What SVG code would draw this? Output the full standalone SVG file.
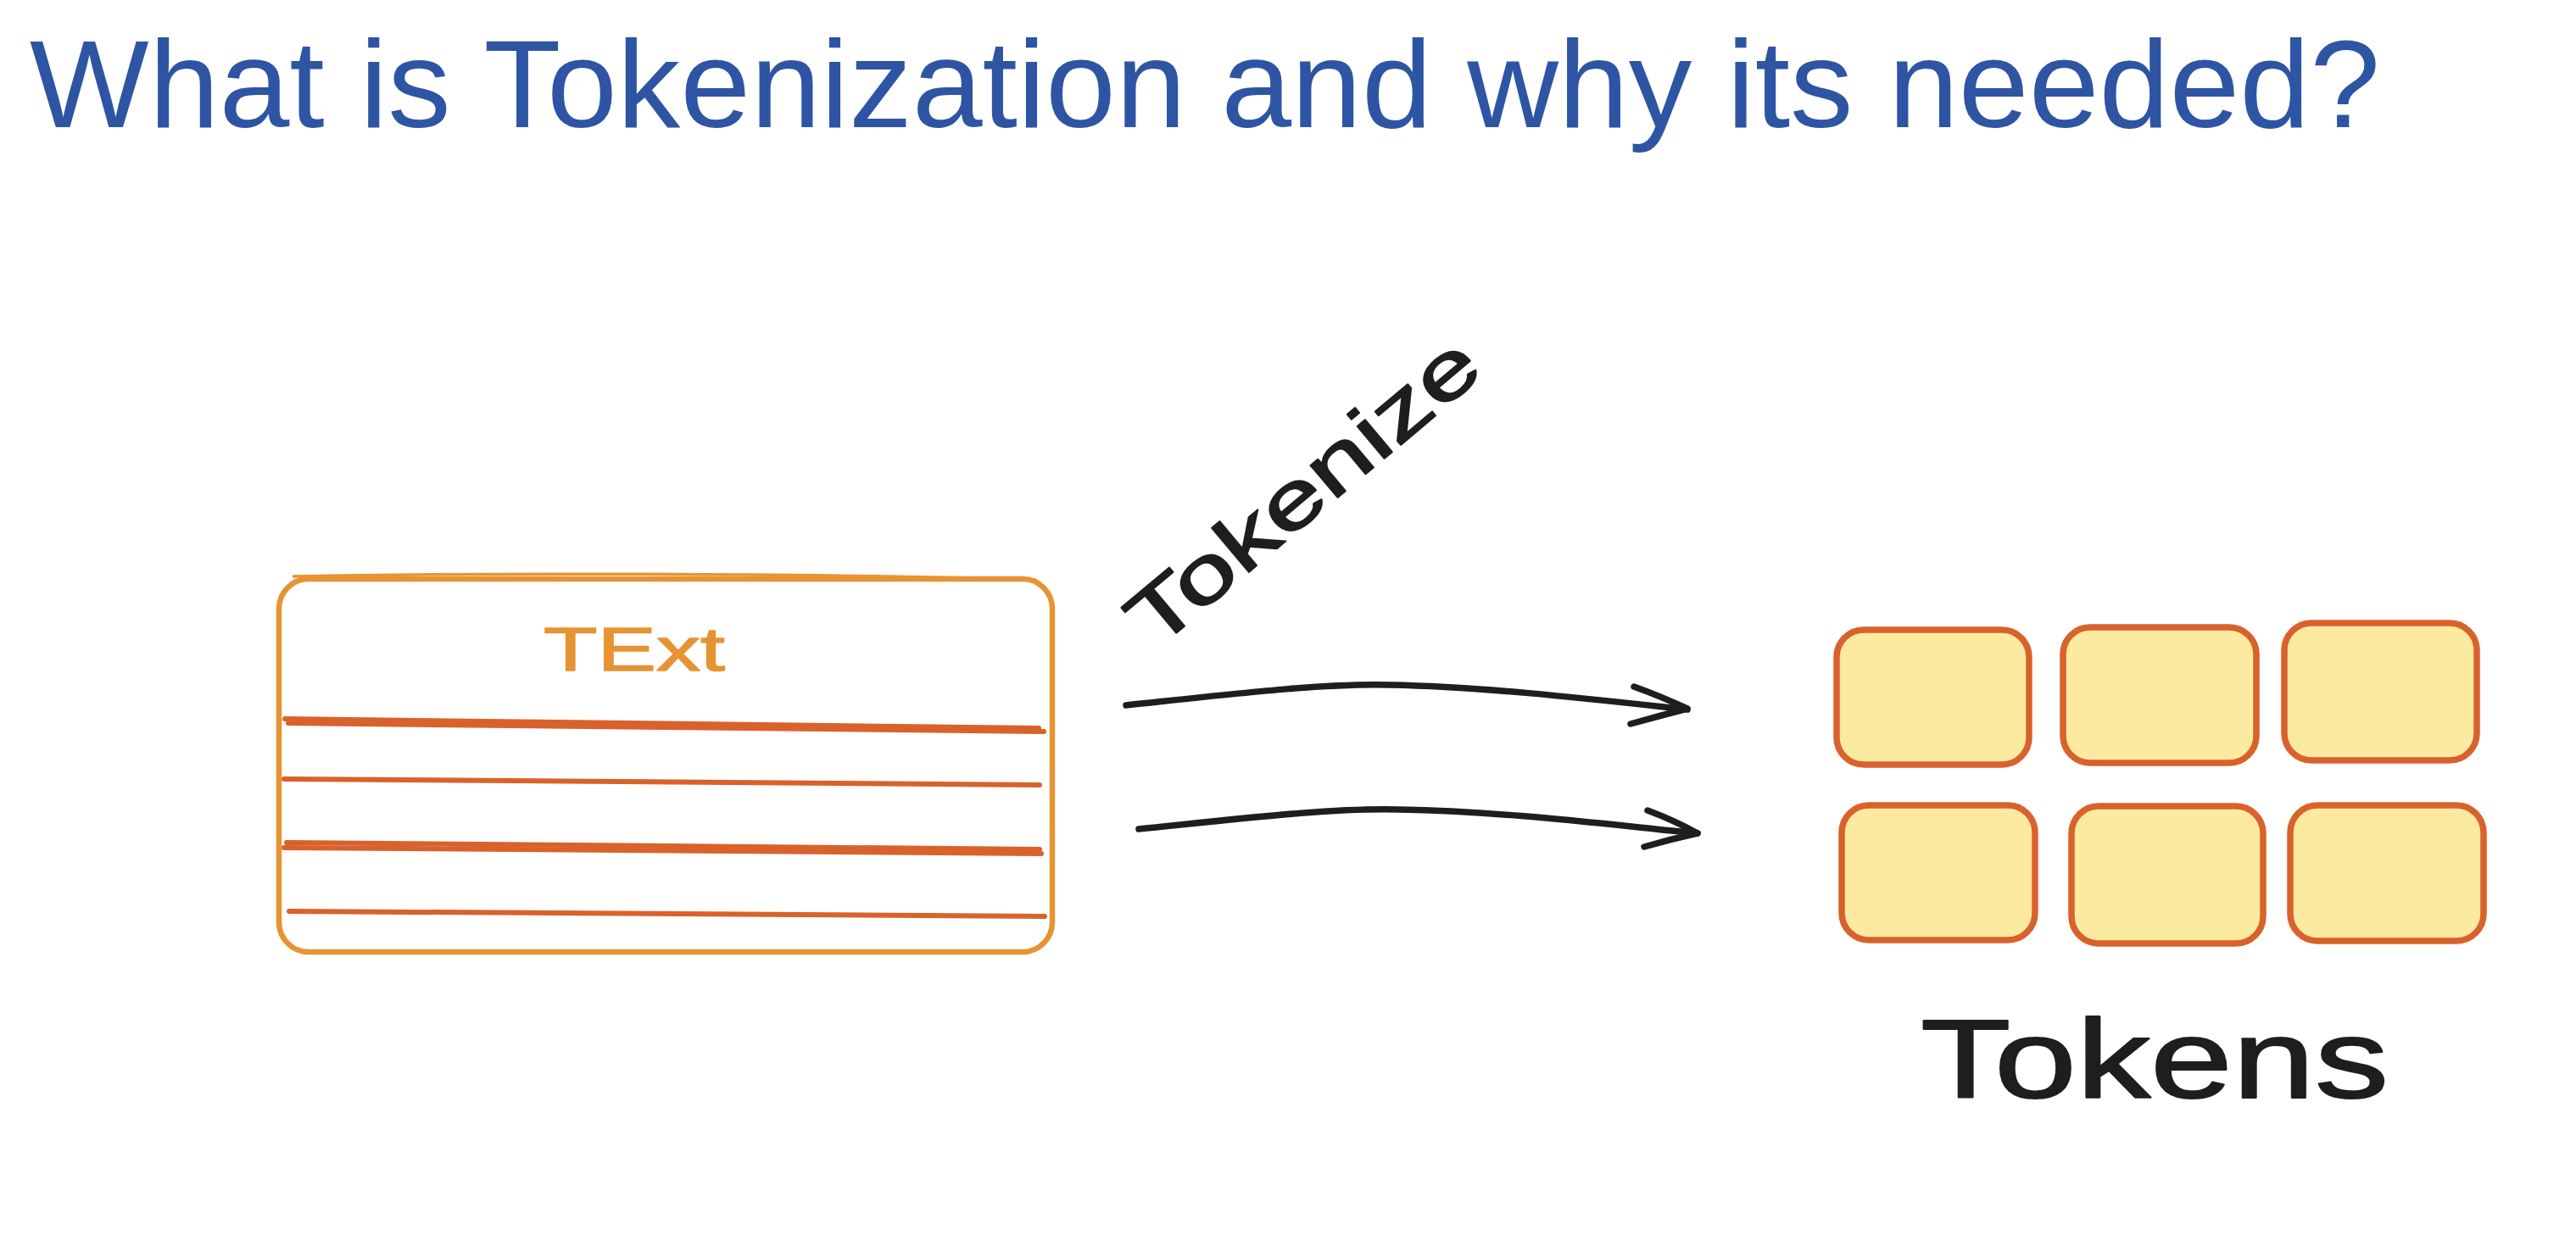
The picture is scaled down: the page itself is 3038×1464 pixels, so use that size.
<svg xmlns="http://www.w3.org/2000/svg" width="3038" height="1464" viewBox="0 0 3038 1464">
<style>
  .title { font-family: "Liberation Sans", Arial, sans-serif; font-size: 146px; fill: #2e55a3; }
  .hand { font-family: "Liberation Sans", Arial, sans-serif; fill: #1e1e1e; stroke: #1e1e1e; stroke-width: 2; stroke-linejoin: round; }
  .box { fill: #ffffff; stroke: #e69433; stroke-width: 6.5; }
  .rule { fill: none; stroke: #d9622c; stroke-width: 6; stroke-linecap: round; }
  .tile { fill: #fbeaa0; stroke: #d9622c; stroke-width: 7.5; }
  .conn { fill: none; stroke: #1e1e1e; stroke-width: 7.5; stroke-linecap: round; stroke-linejoin: round; }
</style>
<rect width="3038" height="1464" fill="#ffffff"/>

<g id="title">
  <text class="title" x="35" y="150" textLength="2772" lengthAdjust="spacingAndGlyphs">What is Tokenization and why its needed?</text>
</g>

<g id="text-box">
  <rect class="box" x="329" y="683" width="912" height="440" rx="35" ry="35"/>
  <path d="M345,680 C600,675 1000,677 1222,684" fill="none" stroke="#e69433" stroke-width="3.5"/>
  <text x="641" y="791" font-family="'Liberation Sans', Arial, sans-serif" font-size="72" fill="#e69433" stroke="#e69433" stroke-width="1.5" stroke-linejoin="round" textLength="214" lengthAdjust="spacingAndGlyphs">TExt</text>
  <path class="rule" d="M336,848 L1225,859"/>
  <path class="rule" d="M340,853 L1231,863"/>
  <path class="rule" d="M335,919 L1226,926"/>
  <path class="rule" d="M338,994 L1226,1002"/>
  <path class="rule" d="M335,1000 L1228,1007"/>
  <path class="rule" d="M341,1075 L1232,1081"/>
</g>

<g id="tokenize-label">
  <text class="hand" font-size="94" transform="translate(1362,768) rotate(-40)" textLength="510" lengthAdjust="spacingAndGlyphs">Tokenize</text>
</g>

<g id="connectors">
  <path class="conn" d="M1328,832 C1460,818 1560,806 1640,808 C1750,810 1880,825 1990,837"/>
  <path class="conn" d="M1927,810 Q1960,822 1990,836 Q1955,845 1923,854"/>
  <path class="conn" d="M1343,978 C1470,965 1570,953 1650,955 C1770,957 1890,972 2002,983"/>
  <path class="conn" d="M1943,956 Q1975,968 2002,983 Q1970,990 1939,999"/>
</g>

<g id="token-1"><rect class="tile" x="2166" y="743" width="227" height="159" rx="32" ry="32"/></g>
<g id="token-2"><rect class="tile" x="2433" y="740" width="228" height="160" rx="32" ry="32"/></g>
<g id="token-3"><rect class="tile" x="2694" y="735" width="227" height="162" rx="32" ry="32"/></g>
<g id="token-4"><rect class="tile" x="2172" y="950" width="228" height="159" rx="32" ry="32"/></g>
<g id="token-5"><rect class="tile" x="2443" y="951" width="226" height="162" rx="32" ry="32"/></g>
<g id="token-6"><rect class="tile" x="2701" y="950" width="228" height="160" rx="32" ry="32"/></g>

<g id="tokens-label">
  <text class="hand" x="2265" y="1295" font-size="132" stroke-width="2.5" textLength="552" lengthAdjust="spacingAndGlyphs">Tokens</text>
</g>
</svg>
